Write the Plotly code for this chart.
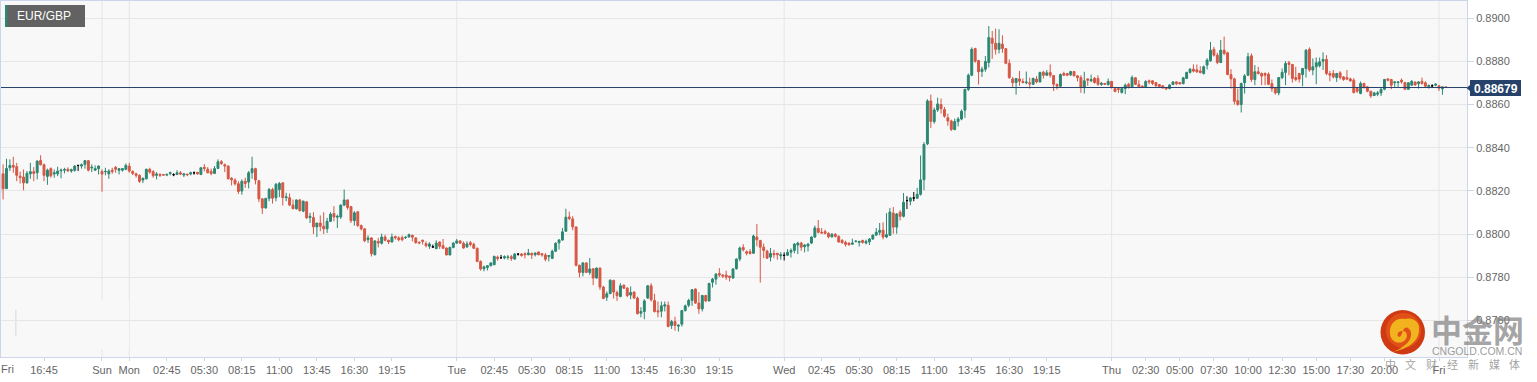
import plotly.graph_objects as go

pair = "EUR/GBP"
last_price = 0.88679
price_ticks = [0.8760, 0.8780, 0.8800, 0.8820, 0.8840, 0.8860, 0.8880, 0.8900]
tick_bars = [13, 30, 38, 49, 60, 71, 82, 93, 104, 115, 134, 145, 156, 167, 178, 189, 200, 211, 230, 241, 252, 263, 274, 285, 296, 307, 326, 336, 346, 356, 366, 376, 386, 396, 406, 422]
tick_labels = ["16:45", "Sun", "Mon", "02:45", "05:30", "08:15", "11:00", "13:45", "16:30", "19:15", "Tue", "02:45", "05:30", "08:15", "11:00", "13:45", "16:30", "19:15", "Wed", "02:45", "05:30", "08:15", "11:00", "13:45", "16:30", "19:15", "Thu", "02:30", "05:00", "07:30", "10:00", "12:30", "15:00", "17:30", "20:00", "Fri"]
day_bars = [30, 38, 134, 230, 326, 422]

# prices in 1e-5 units
opens = [
88191,88279,88210,88307,88318,88312,88268,88264,88237,88279,
88289,88284,88341,88321,88267,88303,88278,88279,88293,88296,
88300,88292,88295,88318,88315,88323,88340,88306,88296,88303,
88290,88289,88279,88296,88309,88295,88296,88300,88315,88290,
88279,88272,88250,88256,88300,88289,88272,88276,88276,88273,
88281,88275,88276,88284,88273,88278,88278,88284,88286,88276,
88309,88300,88290,88281,88304,88335,88321,88315,88258,88250,
88233,88199,88245,88241,88284,88303,88247,88163,88121,88165,
88206,88168,88206,88237,88168,88168,88134,88117,88158,88106,
88149,88076,88076,88033,88051,88036,88024,88059,88095,88078,
88079,88134,88158,88127,88062,88103,88039,88024,87974,87982,
87904,87966,87957,87986,87971,87963,87988,87982,87983,87983,
87986,87994,87982,87962,87971,87955,87943,87940,87932,87963,
87946,87935,87903,87938,87958,87968,87957,87940,87960,87952,
87934,87873,87839,87845,87853,87858,87893,87890,87889,87892,
87895,87884,87907,87907,87909,87904,87910,87904,87917,87909,
87903,87896,87887,87920,87959,87972,88013,88079,88070,88033,
87855,87822,87866,87822,87839,87796,87842,87754,87707,87724,
87785,87729,87710,87763,87749,87717,87731,87703,87633,87641,
87703,87760,87692,87644,87642,87666,87670,87576,87594,87573,
87582,87645,87670,87692,87745,87680,87653,87715,87690,87776,
87791,87817,87810,87810,87805,87796,87839,87884,87938,87918,
87918,87911,87986,87970,87939,87921,87893,87910,87911,87899,
87901,87902,87916,87924,87949,87958,87941,87944,87958,87986,
88026,88008,88011,88003,87987,87999,87989,87970,87961,87958,
87953,87966,87961,87970,87958,87964,87977,87995,88008,88018,
87986,87994,88097,88032,88101,88082,88155,88152,88167,88166,
88184,88252,88418,88617,88521,88575,88600,88577,88539,88524,
88484,88521,88533,88574,88670,88736,88860,88804,88753,88764,
88795,88907,88884,88856,88880,88859,88791,88719,88702,88719,
88707,88701,88701,88694,88718,88705,88750,88736,88749,88735,
88693,88685,88744,88744,88738,88753,88733,88725,88679,88719,
88710,88722,88721,88693,88698,88693,88707,88674,88674,88656,
88674,88694,88682,88724,88693,88685,88679,88710,88710,88702,
88693,88687,88677,88674,88693,88705,88702,88697,88721,88749,
88764,88761,88756,88744,88783,88803,88856,88829,88795,88852,
88840,88739,88719,88618,88600,88701,88736,88826,88716,88752,
88744,88744,88741,88697,88677,88654,88725,88749,88794,88786,
88725,88744,88739,88767,88856,88760,88775,88780,88801,88809,
88744,88744,88725,88747,88728,88725,88719,88713,88674,88651,
88698,88682,88662,88642,88648,88654,88671,88719,88716,88701,
88702,88713,88702,88671,88690,88704,88697,88708,88701,88682,
88687,88690,88687,88673,88682]

highs = [
88323,88323,88349,88346,88358,88330,88289,88299,88292,88330,
88310,88341,88365,88327,88303,88309,88299,88312,88303,88307,
88309,88303,88318,88318,88327,88343,88343,88323,88318,88318,
88300,88307,88300,88307,88315,88303,88306,88327,88330,88295,
88284,88276,88262,88303,88307,88296,88287,88282,88276,88281,
88289,88281,88296,88292,88279,88278,88289,88290,88287,88309,
88324,88310,88303,88315,88346,88343,88327,88318,88264,88258,
88245,88253,88261,88292,88358,88307,88250,88165,88168,88214,
88214,88237,88241,88241,88191,88188,88160,88160,88163,88155,
88152,88098,88101,88051,88086,88101,88075,88101,88129,88090,
88137,88206,88160,88129,88106,88106,88044,88027,87994,87985,
87971,87982,88002,87997,87974,88002,87993,87990,87993,87990,
88002,87997,87985,87965,87974,87966,87962,87951,87971,87966,
87977,87938,87941,87962,87977,87971,87965,87966,87968,87960,
87937,87878,87853,87856,87869,87900,87900,87903,87901,87903,
87903,87912,87910,87912,87915,87931,87914,87915,87918,87912,
87912,87903,87928,87962,87977,88028,88117,88104,88083,88034,
87858,87869,87869,87889,87842,87845,87845,87760,87734,87790,
87788,87738,87772,87766,87754,87757,87734,87710,87661,87698,
87763,87772,87723,87687,87687,87687,87687,87602,87617,87582,
87648,87673,87700,87745,87748,87731,87718,87718,87774,87796,
87819,87842,87813,87830,87805,87842,87887,87942,87953,87924,
87930,87997,88046,87973,87956,87927,87935,87927,87911,87916,
87915,87930,87933,87958,87964,87964,87953,87958,87989,88039,
88065,88028,88020,88008,88004,88004,87994,87977,87969,87961,
87978,87970,87966,87974,87974,87981,87998,88028,88051,88054,
88097,88121,88125,88097,88110,88190,88175,88172,88195,88214,
88364,88426,88625,88646,88586,88632,88628,88589,88558,88530,
88535,88542,88577,88674,88744,88865,88863,88806,88775,88825,
88964,88941,88952,88949,88921,88862,88809,88728,88721,88756,
88721,88753,88725,88725,88732,88752,88756,88760,88786,88736,
88698,88744,88752,88747,88756,88756,88736,88736,88752,88722,
88739,88728,88736,88705,88699,88721,88710,88682,88674,88682,
88698,88701,88735,88728,88713,88690,88713,88716,88713,88705,
88696,88690,88682,88694,88708,88708,88705,88728,88752,88769,
88786,88786,88778,88781,88815,88890,88868,88840,88899,88915,
88845,88764,88725,88674,88701,88741,88840,88837,88783,88775,
88749,88749,88749,88716,88682,88728,88767,88801,88803,88787,
88775,88747,88770,88857,88865,88814,88818,88818,88842,88829,
88756,88760,88747,88755,88732,88760,88725,88722,88682,88707,
88701,88685,88663,88659,88663,88676,88719,88722,88719,88708,
88708,88721,88705,88704,88713,88707,88708,88725,88708,88693,
88694,88699,88690,88684,88684]

lows = [
88175,88160,88210,88292,88284,88245,88234,88203,88234,88256,
88245,88253,88318,88245,88228,88261,88261,88268,88258,88281,
88287,88284,88289,88292,88303,88303,88290,88287,88292,88276,
88196,88272,88256,88279,88284,88276,88289,88296,88284,88273,
88261,88237,88236,88253,88279,88261,88253,88264,88272,88268,
88272,88268,88273,88273,88264,88268,88272,88275,88275,88273,
88290,88281,88272,88278,88303,88320,88287,88253,88225,88225,
88186,88182,88214,88211,88256,88230,88148,88093,88117,88152,
88141,88152,88171,88132,88152,88129,88117,88113,88104,88101,
88070,88051,88000,87986,88013,88000,88005,88055,88059,88028,
88070,88129,88113,88051,88039,88033,88017,87962,87959,87896,
87901,87938,87951,87966,87954,87962,87974,87966,87966,87977,
87985,87966,87955,87952,87951,87938,87931,87937,87931,87931,
87931,87901,87901,87934,87954,87954,87932,87937,87943,87931,
87869,87830,87827,87831,87850,87855,87876,87886,87883,87881,
87875,87881,87900,87895,87887,87901,87884,87896,87901,87895,
87873,87873,87884,87917,87928,87969,88010,88064,88017,87850,
87799,87804,87819,87811,87763,87793,87741,87698,87690,87721,
87701,87690,87707,87745,87707,87698,87700,87627,87614,87605,
87700,87687,87636,87614,87614,87641,87568,87560,87552,87548,
87571,87641,87661,87667,87676,87630,87641,87684,87687,87752,
87765,87800,87796,87788,87780,87793,87835,87874,87919,87901,
87905,87908,87943,87775,87888,87885,87873,87888,87881,87881,
87877,87898,87891,87911,87907,87922,87915,87919,87953,87981,
88003,88001,87998,87980,87983,87984,87960,87955,87942,87946,
87949,87961,87942,87955,87952,87949,87973,87992,87994,87975,
87981,87991,88001,88001,88063,88077,88116,88133,88152,88163,
88178,88203,88412,88491,88511,88566,88558,88539,88502,88477,
88481,88499,88527,88539,88663,88732,88794,88693,88728,88752,
88772,88812,88832,88837,88840,88787,88719,88677,88646,88687,
88698,88694,88674,88691,88698,88702,88721,88732,88725,88663,
88670,88682,88732,88732,88732,88732,88707,88654,88651,88687,
88704,88697,88687,88687,88691,88688,88674,88659,88654,88651,
88648,88674,88677,88690,88677,88680,88677,88694,88690,88682,
88680,88674,88668,88671,88690,88690,88693,88694,88718,88744,
88749,88747,88744,88739,88763,88798,88822,88787,88792,88829,
88736,88674,88600,88595,88563,88651,88732,88705,88690,88739,
88690,88690,88690,88659,88646,88643,88718,88690,88736,88702,
88708,88702,88685,88725,88752,88736,88694,88772,88760,88736,
88708,88721,88705,88716,88710,88713,88705,88651,88654,88648,
88674,88657,88631,88639,88639,88640,88666,88707,88671,88682,
88682,88697,88668,88668,88687,88687,88674,88693,88679,88674,
88677,88685,88663,88645,88677]

closes = [
88276,88210,88304,88318,88310,88272,88262,88237,88281,88289,
88281,88338,88321,88272,88296,88270,88284,88292,88296,88299,
88293,88298,88315,88318,88321,88340,88296,88309,88303,88315,
88278,88290,88292,88290,88300,88303,88303,88318,88292,88281,
88272,88244,88258,88300,88287,88270,88278,88272,88273,88276,
88284,88275,88284,88278,88279,88275,88284,88284,88279,88307,
88304,88284,88281,88303,88335,88327,88315,88256,88251,88233,
88197,88244,88234,88284,88303,88250,88163,88121,88165,88206,
88166,88230,88234,88169,88172,88134,88117,88158,88109,88152,
88075,88082,88033,88051,88036,88024,88059,88092,88079,88082,
88134,88158,88123,88062,88098,88039,88024,87969,87982,87909,
87968,87958,87986,87971,87963,87986,87983,87974,87974,87985,
87997,87985,87960,87959,87966,87946,87954,87940,87958,87943,
87934,87903,87938,87958,87968,87958,87935,87954,87951,87934,
87873,87838,87848,87853,87866,87896,87887,87890,87895,87893,
87887,87907,87907,87901,87904,87912,87903,87912,87904,87903,
87883,87900,87920,87957,87972,88010,88078,88072,88033,87855,
87822,87866,87822,87838,87796,87842,87754,87701,87723,87786,
87731,87714,87760,87749,87715,87729,87703,87631,87641,87690,
87760,87695,87641,87639,87667,87672,87571,87594,87576,87577,
87645,87667,87692,87742,87680,87653,87715,87690,87771,87791,
87814,87810,87805,87800,87799,87838,87884,87935,87927,87911,
87910,87991,87973,87939,87924,87888,87910,87904,87904,87904,
87901,87915,87924,87953,87958,87939,87949,87953,87986,88028,
88008,88005,88003,87987,87999,87989,87963,87960,87952,87950,
87958,87967,87966,87961,87966,87977,87995,88008,88017,87986,
87997,88102,88032,88093,88082,88147,88155,88167,88167,88184,
88251,88415,88617,88522,88575,88603,88581,88546,88524,88485,
88521,88533,88569,88670,88736,88856,88801,88752,88764,88800,
88911,88884,88856,88884,88860,88791,88725,88701,88721,88708,
88702,88704,88696,88721,88705,88749,88736,88747,88736,88694,
88685,88739,88736,88736,88753,88733,88725,88680,88710,88713,
88716,88702,88694,88699,88694,88707,88679,88660,88670,88674,
88690,88682,88725,88694,88682,88680,88707,88705,88698,88687,
88684,88677,88673,88691,88705,88697,88696,88724,88749,88764,
88755,88752,88749,88775,88806,88852,88829,88795,88852,88837,
88739,88719,88615,88600,88698,88733,88822,88716,88752,88744,
88732,88736,88694,88674,88654,88725,88749,88790,88786,88721,
88716,88718,88767,88852,88760,88775,88794,88798,88809,88744,
88736,88728,88744,88725,88716,88718,88710,88656,88662,88698,
88679,88662,88640,88654,88654,88671,88716,88713,88690,88705,
88705,88705,88671,88701,88708,88691,88705,88697,88685,88688,
88687,88694,88676,88682,88679]

n = min(len(opens), len(highs), len(lows), len(closes))
bars = list(range(n))
flat = [i for i in bars if opens[i] == closes[i]]
moving = [i for i in bars if opens[i] != closes[i]]

GREEN = "#2b8772"
RED = "#d65745"
NAVY = "#26416a"
AXIS = "#ccd6eb"
GRID = "#e6e6e6"


def pick(values, idx):
    return [values[i] / 1e5 for i in idx]


def px(x):
    return (x - 1) / 1466


def py(y):
    return 1 - (y - 1) / 356


fig = go.Figure()
fig.add_trace(go.Candlestick(
    x=moving, open=pick(opens, moving), high=pick(highs, moving), low=pick(lows, moving), close=pick(closes, moving),
    increasing=dict(line=dict(color=GREEN, width=1), fillcolor=GREEN),
    decreasing=dict(line=dict(color=RED, width=1), fillcolor=RED),
    whiskerwidth=0, showlegend=False, hoverinfo="skip"))
fig.add_trace(go.Candlestick(
    x=flat, open=pick(opens, flat), high=pick(highs, flat), low=pick(lows, flat), close=pick(closes, flat),
    increasing=dict(line=dict(color="#000000", width=1), fillcolor="#000000"),
    decreasing=dict(line=dict(color="#000000", width=1), fillcolor="#000000"),
    whiskerwidth=0, showlegend=False, hoverinfo="skip"))

shapes = []
for d in day_bars:
    shapes.append(dict(type="line", xref="x", yref="paper", x0=d, x1=d, y0=0, y1=1, layer="between",
                       line=dict(color=GRID, width=1)))
# blank watermark box in the lower-left corner
shapes.append(dict(type="rect", xref="paper", yref="paper", x0=px(15), x1=px(129), y0=py(349), y1=py(300),
                   layer="between", line=dict(width=0), fillcolor="#f8f8f8"))
shapes.append(dict(type="rect", xref="paper", yref="paper", x0=px(15), x1=px(16.6), y0=py(336), y1=py(310),
                   layer="between", line=dict(width=0), fillcolor="#e4e4e4"))
# last price line and label
shapes.append(dict(type="line", xref="paper", yref="y", x0=0, x1=1, y0=last_price, y1=last_price,
                   layer="above", line=dict(color=NAVY, width=1)))
shapes.append(dict(type="rect", xref="paper", yref="paper", x0=px(1470), x1=px(1521), y0=py(96), y1=py(80),
                   layer="above", line=dict(width=0), fillcolor=NAVY))
shapes.append(dict(type="path", xref="paper", yref="paper",
                   path=f"M {px(1470)} {py(85)} L {px(1466.5)} {py(88)} L {px(1470)} {py(91)} Z",
                   layer="above", line=dict(width=0), fillcolor=NAVY))
# pair tag
shapes.append(dict(type="rect", xref="paper", yref="paper", x0=px(5), x1=px(85), y0=py(27), y1=py(5),
                   layer="above", line=dict(width=0), fillcolor="#626262"))
shapes.append(dict(type="rect", xref="paper", yref="paper", x0=px(5), x1=px(7.5), y0=py(27), y1=py(5),
                   layer="above", line=dict(width=0), fillcolor=GREEN))
# logo mark
shapes.append(dict(type="circle", xref="paper", yref="paper", x0=px(1380.5), x1=px(1425), y0=py(354.5), y1=py(310),
                   layer="above", line=dict(width=0), fillcolor="#cf3a12"))
shapes.append(dict(type="circle", xref="paper", yref="paper", x0=px(1386), x1=px(1421), y0=py(348), y1=py(313),
                   layer="above", line=dict(width=0), fillcolor="#e2501a"))


def path(points):
    head, *rest = points
    s = f"M {px(head[0])} {py(head[1])}"
    for c1, c2, p in rest:
        s += f" C {px(c1[0])} {py(c1[1])} {px(c2[0])} {py(c2[1])} {px(p[0])} {py(p[1])}"
    return s + " Z"


swirl = path([(1392, 352),
              ((1404, 350), (1419, 343), (1419, 330)),
              ((1420, 321), (1412, 317), (1405, 319)),
              ((1396, 317), (1389, 324), (1390, 333)),
              ((1390, 341), (1398, 345), (1404, 341)),
              ((1409, 337), (1407, 330), (1402, 331)),
              ((1398, 331), (1396, 335), (1399, 337)),
              ((1403, 337), (1402, 325), (1408, 328)),
              ((1413, 331), (1412, 340), (1405, 345)),
              ((1400, 349), (1396, 351), (1392, 352))])
shapes.append(dict(type="path", xref="paper", yref="paper", path=swirl, layer="above",
                   line=dict(width=0), fillcolor="#f2b41e"))


def label(x, y, text, family, size, color):
    return dict(xref="paper", yref="paper", x=px(x), y=py(y), text=text, showarrow=False,
                xanchor="center", yanchor="middle", font=dict(family=family, size=size, color=color))


annotations = [
    label(7, 369, "Fri", "Liberation Sans", 11, "#666666"),
    label(44, 16.5, pair, "Liberation Sans", 12, "#ffffff"),
    label(1495.5, 88.5, f"<b>{last_price:.5f}</b>", "Liberation Sans", 12, "#ffffff"),
    label(1477.5, 328, "<b>中金网</b>", "Noto Sans CJK SC", 31, "rgba(130,130,130,0.72)"),
    label(1477.5, 351, "CNGOLD.COM.CN", "Liberation Sans", 10.5, "rgba(130,130,130,0.8)"),
]
for k, ch in enumerate("中文财经新媒体"):
    annotations.append(label(1390 + k * 20.8, 364.5, ch, "Noto Sans CJK SC", 11, "rgba(130,130,130,0.75)"))

fig.update_layout(
    width=1537, height=382, autosize=False,
    margin=dict(l=1, r=70, t=1, b=25, pad=0),
    paper_bgcolor="#ffffff", plot_bgcolor="#f8f8f8",
    boxgap=0.2,
    shapes=shapes, annotations=annotations, showlegend=False,
    font=dict(family="Liberation Sans", size=11, color="#666666"),
    xaxis=dict(range=[0.39, 430.2], type="linear", rangeslider=dict(visible=False), showgrid=False, zeroline=False,
               tickmode="array", tickvals=tick_bars, ticktext=tick_labels, ticks="outside", ticklen=3, tickwidth=1,
               tickcolor=AXIS, showline=True, linecolor=AXIS, linewidth=1, mirror=True, tickangle=0,
               tickfont=dict(family="Liberation Sans", size=11, color="#666666")),
    yaxis=dict(range=[0.87430, 0.89080], side="right", showgrid=True, gridcolor=GRID, gridwidth=1, zeroline=False,
               tickmode="array", tickvals=price_ticks, ticktext=[f"{v:.4f}" for v in price_ticks],
               ticks="outside", ticklen=6, tickwidth=1, tickcolor=AXIS,
               showline=True, linecolor=AXIS, linewidth=1, mirror=True,
               tickfont=dict(family="Liberation Sans", size=11, color="#666666")),
)

fig.write_html("out.html", config=dict(displayModeBar=False),
               post_script="document.body.style.margin='0';document.body.style.overflow='hidden';")
